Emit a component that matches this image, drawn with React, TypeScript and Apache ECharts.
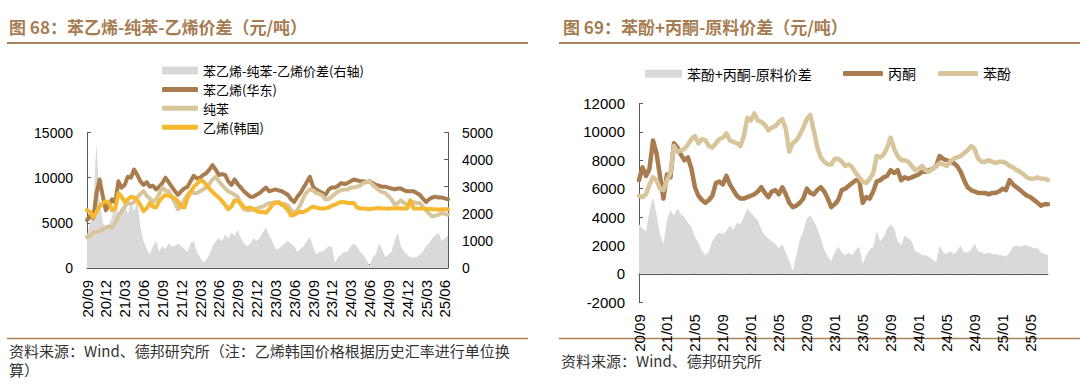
import { useEffect, useRef } from 'react';
import * as echarts from 'echarts';

// ---------- Left chart data (half-month samples from 2020-09) ----------
const styreneEast = [
  5300, 5800, 5500, 8200, 9800, 8000, 6400, 7000, 7600, 7200,
  9600, 8900, 9200, 10100, 10000, 10900, 10300, 9600, 9200, 9500,
  9000, 9100, 8700, 9000, 9400, 10000, 9500, 9000, 8500, 8100,
  8500, 8800, 9000, 9600, 10200, 9900, 10000, 10300, 10500,
  10900, 11400, 10900, 10300, 10400, 10300, 9600, 9200, 9800, 9300,
  8900, 8500, 8200, 7900, 7900, 8100, 8300, 8600, 8900, 8500,
  8600, 8700, 8600, 8500, 8300, 8100, 7600, 7300, 7900,
  8300, 8900, 9500, 10100, 9000, 8700, 8500, 8300, 8100, 8700,
  8900, 8900, 9100, 9400, 9300, 9400, 9600, 9800, 9700, 9600,
  9600, 9500, 9600, 9400, 9200, 9100, 9000, 9000, 8900, 8800,
  8700, 8800, 8800, 8600, 8500, 8500, 8500, 8300, 8100,
  7700, 7300, 7600, 7800, 7900, 7800, 7800, 7700, 7600,
];
const benzene = [
  3400, 3600, 3900, 4000, 4100, 4300, 4500, 4600, 4500, 5000,
  5700, 6300, 6800, 7200, 7100, 7300, 7800, 8200, 8500, 8000,
  7700, 7300, 7600, 8200, 8900, 8600, 8500, 7900, 7200, 6500,
  6800, 7500, 8100, 8500, 8300, 8300, 8500, 8700, 8900,
  9300, 9800, 10100, 9600, 9200, 8800, 8500, 8300, 8100, 7900,
  7000, 6500, 6400, 6400, 6500, 6600, 6700, 6800, 7000, 7200,
  7200, 7300, 7200, 7000, 7100, 6900, 6400, 6100, 6400,
  7000, 7800, 8400, 8700, 8600, 8300, 8200, 8000, 7600, 7600,
  7900, 8200, 8500, 8600, 8700, 8700, 8900, 8900, 9000, 9100,
  9400, 9500, 9600, 9200, 8900, 8600, 8400, 8300, 8000, 7600,
  7000, 7200, 7500, 7200, 7000, 7100, 7300, 7200, 7200,
  6800, 6400, 6000, 5700, 5800, 5900, 6100, 6000, 5900,
];
const ethyleneKorea = [
  6400, 6200, 5600, 6200, 6800, 7200, 7400, 7200, 6400, 6600,
  8300, 7900, 7300, 7600, 7900, 7800, 7500, 7000, 6300, 6600,
  7200, 6800, 6700, 7400, 7800, 8100, 8000, 7900, 7700, 7400,
  6800, 6700, 7700, 8400, 9000, 9300, 9700, 9600, 9200,
  8800, 8400, 8100, 7800, 7400, 7000, 6500, 6800, 7500, 7400,
  7200, 6700, 6600, 6700, 6500, 6300, 6200, 6200, 6100, 6500,
  7000, 7200, 7300, 7100, 6800, 6400, 5800, 5900, 6100,
  6200, 6200, 6400, 6600, 6800, 6700, 6600, 6600, 6600, 6700,
  6900, 7000, 7200, 7300, 7300, 7200, 7200, 7200, 6700, 6600,
  6600, 6550, 6500, 6600, 6600, 6650, 6600, 6600, 6550, 6600,
  6600, 6650, 6600, 6600, 6600, 7500, 6600, 6600, 6550,
  6600, 6500, 6550, 6500, 6500, 6450, 6500, 6500, 6500,
];
const styreneSpread = [
  1200, 1700, 2300, 4600, 2500, 1700, 1400, 1600, 1900, 2700,
  1900, 2200, 2400, 2000, 2400, 2100, 2500, 1500, 1000, 700,
  500, 800, 1000, 600, 800, 700, 900, 800, 800, 900,
  800, 700, 600, 900, 1000, 600, 400, 200, 300,
  500, 800, 1000, 1100, 1000, 1250, 1100, 1300, 1200, 1400,
  1100, 900, 800, 900, 1100, 1000, 1100, 1300, 1500, 1200,
  1000, 700, 700, 800, 900, 1000, 900, 800, 600,
  700, 800, 1000, 1150, 800, 500, 600, 600, 700, 800,
  800, 200, 400, 500, 600, 600, 800, 900, 800, 600,
  500, 300, 100, 400, 500, 900, 700, 400, 500, 600,
  1000, 1300, 800, 600, 500, 400, 400, 400, 500,
  600, 800, 900, 1100, 1200, 1300, 1000, 1100, 1200,
];

// ---------- Right chart data (half-month samples from 2020-09) ----------
const phenol = [
  5500, 5400, 5600, 6300, 6800, 6600, 6000, 5900, 6600, 7100,
  9000, 8600, 8700, 8800, 9100, 9500, 9700, 9200, 9500, 9400,
  9000, 8900, 9200, 9500, 9600, 9900, 9400, 9300, 9200, 9000,
  9700, 11000, 10800, 11300, 10800, 10700, 10500, 10100, 10300, 10400,
  10700, 10900, 10200, 8600, 9200, 9400, 9800, 10300, 10900, 11200,
  10100, 8900, 8200, 7900, 7700, 7700, 8100, 8100, 7900, 7600,
  7700, 7500, 7100, 6800, 6500, 6400, 6700, 7100, 8300, 8200,
  8400, 8900, 9600, 8800, 8300, 8000, 8000, 7900, 7600, 7300,
  7400, 7600, 7300, 7200, 7400, 7600, 7800, 7700, 7600, 7900,
  8100, 8200, 8300, 8500, 8700, 9000, 8800, 8100, 7900, 7900,
  8000, 7900, 7800, 7900, 7900, 7800, 7600, 7500, 7300, 7200,
  7000, 6800, 6700, 6700, 6800, 6700, 6700, 6600,
];
const acetone = [
  6600, 7500, 6900, 7400, 9400, 8500, 6900, 5300, 7000, 6800,
  9200, 8900, 8400, 8000, 8200, 7400, 6100, 5500, 5200, 5000,
  5200, 5500, 6400, 6500, 6300, 6900, 6300, 5900, 5500, 5300,
  5300, 5400, 5500, 5600, 5800, 6100, 5700, 5400, 5800, 5900,
  5600, 6100, 5600, 5000, 4700, 4800, 5000, 5300, 6000, 5700,
  5600, 5900, 6100, 5800, 5300, 4700, 4900, 5200, 5900, 6000,
  6200, 6400, 6600, 6600, 5000, 5400, 5300, 5800, 6500, 6600,
  6800, 6900, 7300, 7100, 7300, 6600, 6800, 6700, 6800, 6900,
  7000, 7200, 7200, 7300, 7400, 7600, 8300, 8100, 8000, 7900,
  7800, 7600, 7200, 6600, 6100, 5900, 5800, 5700, 5700, 5700,
  5600, 5700, 5700, 5800, 6000, 5900, 6600, 6300, 6100, 5900,
  5700, 5500, 5400, 5200, 5000, 4800, 4900, 4900,
];
const phenolSpread = [
  3500, 3200, 3000, 4400, 5400, 4200, 2800, 2100, 3800, 4500,
  4100, 4600, 4200, 4000, 3600, 3300, 2600, 2200, 1600, 1300,
  1600, 2300, 2700, 2900, 2800, 3000, 3400, 3100, 3600, 3500,
  4000, 4600, 4300, 4000, 3800, 3100, 2700, 2500, 2300, 2100,
  1800, 2100, 1500, 900, 200, 1300, 2400, 3000, 3900, 4100,
  3700, 3200, 2500, 1700, 1200, 900, 1500, 1900, 1500, 1300,
  1500, 1300, 1700, 1900, 700, 1300, 1700, 1900, 3000, 2300,
  2600, 3200, 3500, 3200, 2300, 2000, 2700, 2500, 2300, 1600,
  1500, 1300, 1300, 1200, 1000, 800, 2000, 1500, 1400, 1600,
  1400, 1600, 2000, 1500, 1500, 1700, 2100, 1600, 1500, 1400,
  1500, 1400, 1400, 1300, 1300, 1200, 1500, 1900, 2000, 1900,
  2000, 2000, 1900, 1800, 1800, 1500, 1400, 1300,
];

const titleLeft = '图 68：苯乙烯-纯苯-乙烯价差（元/吨）';
const titleRight = '图 69：苯酚+丙酮-原料价差（元/吨）';
const sourceLeft1 = '资料来源：Wind、德邦研究所（注：乙烯韩国价格根据历史汇率进行单位换';
const sourceLeft2 = '算）';
const sourceRight = '资料来源：Wind、德邦研究所';

function halfMonthDates(startYear: number, startMonth: number, n: number): string[] {
  const out: string[] = [];
  let y = startYear;
  let m = startMonth;
  for (let i = 0; i < n; i++) {
    out.push(`${y}-${String(m).padStart(2, '0')}-${i % 2 === 0 ? '01' : '16'}`);
    if (i % 2 === 1) {
      m += 1;
      if (m > 12) { m = 1; y += 1; }
    }
  }
  return out;
}

const leftDates = halfMonthDates(2020, 9, styreneEast.length);
const rightDates = halfMonthDates(2020, 9, phenol.length);

const BROWN = '#a87c4f';
const TAN = '#d9c59b';
const YELLOW = '#f5b82e';
const GRAY = '#d9d9d9';
const TITLE = '#a67c52';
const RULE = '#a9825a';
const AXIS = '#595959';
const CJK = '"Noto Sans CJK SC", sans-serif';
const NUM = '"Liberation Sans", Arial, sans-serif';

const fmtDate = (v: string) => `${v.slice(2, 4)}/${v.slice(5, 7)}`;
const fmtNum = (v: number) => String(v);

export default function App() {
  const ref = useRef<HTMLDivElement>(null);
  useEffect(() => {
    if (!ref.current) return;
    const chart = echarts.init(ref.current, undefined, { renderer: 'svg' });
    const axisLine = { show: true, lineStyle: { color: AXIS, width: 1 } };
    const legendText = { fontSize: 13, lineHeight: 14, color: '#000', fontFamily: CJK };
    const option: any = {
      animation: false,
      backgroundColor: '#ffffff',
      textStyle: { fontFamily: NUM },
      grid: [
        { left: 87, top: 132.5, width: 361, height: 135.5 },
        { left: 639, top: 103.5, width: 409, height: 198.7 },
      ],
      xAxis: [
        {
          gridIndex: 0, type: 'category', data: leftDates, boundaryGap: false,
          axisLine,
          axisTick: { show: true, inside: true, length: 4, interval: 5, lineStyle: { color: AXIS } },
          axisLabel: { interval: 5, rotate: 90, margin: 12, fontSize: 15, color: '#000', fontFamily: NUM, formatter: fmtDate },
          splitLine: { show: false },
        },
        {
          gridIndex: 1, type: 'category', data: rightDates, boundaryGap: false,
          axisLine: { ...axisLine, onZero: true },
          axisTick: { show: true, inside: true, length: 5, interval: 7, lineStyle: { color: AXIS } },
          axisLabel: { interval: 7, rotate: 90, margin: 12, fontSize: 15, color: '#000', fontFamily: NUM, formatter: fmtDate },
          splitLine: { show: false },
        },
      ],
      yAxis: [
        {
          gridIndex: 0, type: 'value', position: 'left', min: 0, max: 15000, interval: 5000,
          axisLine, axisTick: { show: true, inside: true, length: 4, lineStyle: { color: AXIS } },
          axisLabel: { fontSize: 14, margin: 14, color: '#000', fontFamily: NUM, formatter: fmtNum },
          splitLine: { show: false },
        },
        {
          gridIndex: 0, type: 'value', position: 'right', min: 0, max: 5000, interval: 1000,
          axisLine, axisTick: { show: true, inside: true, length: 4, lineStyle: { color: AXIS } },
          axisLabel: { fontSize: 14, margin: 14, color: '#000', fontFamily: NUM, formatter: fmtNum },
          splitLine: { show: false },
        },
        {
          gridIndex: 1, type: 'value', position: 'left', min: -2000, max: 12000, interval: 2000,
          axisLine, axisTick: { show: true, inside: true, length: 4, lineStyle: { color: AXIS } },
          axisLabel: { fontSize: 15, margin: 14, color: '#000', fontFamily: NUM, formatter: fmtNum },
          splitLine: { show: false },
        },
      ],
      legend: [
        {
          data: ['苯乙烯-纯苯-乙烯价差(右轴)'], left: 157, top: 58.5, orient: 'vertical',
          icon: 'rect', itemWidth: 36, itemHeight: 8, itemGap: 5, textStyle: legendText, selectedMode: false,
        },
        {
          data: ['苯乙烯(华东)', '纯苯', '乙烯(韩国)'], left: 157, top: 77.4, orient: 'vertical',
          icon: 'roundRect', itemWidth: 36, itemHeight: 5, itemGap: 4.9, textStyle: legendText, selectedMode: false,
        },
        {
          data: ['苯酚+丙酮-原料价差'], left: 640, top: 61.7, orient: 'horizontal',
          icon: 'rect', itemWidth: 37, itemHeight: 8, textStyle: { ...legendText, fontSize: 14 }, selectedMode: false,
        },
        {
          data: ['丙酮', '苯酚'], left: 838, top: 61.4, orient: 'horizontal',
          icon: 'roundRect', itemWidth: 40, itemHeight: 5, itemGap: 22, textStyle: { ...legendText, fontSize: 14 }, selectedMode: false,
        },
      ],
      series: [
        {
          name: '苯乙烯-纯苯-乙烯价差(右轴)', type: 'line', xAxisIndex: 0, yAxisIndex: 1,
          data: styreneSpread, symbol: 'none', color: GRAY, itemStyle: { color: GRAY },
          lineStyle: { width: 0, color: GRAY }, areaStyle: { color: GRAY, opacity: 1 },
        },
        {
          name: '苯乙烯(华东)', type: 'line', xAxisIndex: 0, yAxisIndex: 0, data: styreneEast,
          symbol: 'none', color: BROWN, itemStyle: { color: BROWN },
          lineStyle: { width: 4, color: BROWN, cap: 'round', join: 'round' },
        },
        {
          name: '纯苯', type: 'line', xAxisIndex: 0, yAxisIndex: 0, data: benzene,
          symbol: 'none', color: TAN, itemStyle: { color: TAN },
          lineStyle: { width: 4, color: TAN, cap: 'round', join: 'round' },
        },
        {
          name: '乙烯(韩国)', type: 'line', xAxisIndex: 0, yAxisIndex: 0, data: ethyleneKorea,
          symbol: 'none', color: YELLOW, itemStyle: { color: YELLOW },
          lineStyle: { width: 4, color: YELLOW, cap: 'round', join: 'round' },
        },
        {
          name: '苯酚+丙酮-原料价差', type: 'line', xAxisIndex: 1, yAxisIndex: 2,
          data: phenolSpread, symbol: 'none', color: GRAY, itemStyle: { color: GRAY },
          lineStyle: { width: 0, color: GRAY }, areaStyle: { color: GRAY, opacity: 1 },
        },
        {
          name: '丙酮', type: 'line', xAxisIndex: 1, yAxisIndex: 2, data: acetone,
          symbol: 'none', color: BROWN, itemStyle: { color: BROWN },
          lineStyle: { width: 4.5, color: BROWN, cap: 'round', join: 'round' },
        },
        {
          name: '苯酚', type: 'line', xAxisIndex: 1, yAxisIndex: 2, data: phenol,
          symbol: 'none', color: TAN, itemStyle: { color: TAN },
          lineStyle: { width: 4.5, color: TAN, cap: 'round', join: 'round' },
        },
      ],
      graphic: [
        { type: 'text', x: 9, y: 26, style: { text: titleLeft, font: `bold 17px ${CJK}`, fill: TITLE, verticalAlign: 'middle' } },
        { type: 'line', shape: { x1: 7, y1: 43, x2: 528, y2: 43 }, style: { stroke: RULE, lineWidth: 2 } },
        { type: 'text', x: 563, y: 26, style: { text: titleRight, font: `bold 17px ${CJK}`, fill: TITLE, verticalAlign: 'middle' } },
        { type: 'line', shape: { x1: 559, y1: 43, x2: 1080, y2: 43 }, style: { stroke: RULE, lineWidth: 2 } },
        { type: 'line', shape: { x1: 7, y1: 338.5, x2: 528, y2: 338.5 }, style: { stroke: RULE, lineWidth: 1.5 } },
        { type: 'line', shape: { x1: 559, y1: 338.5, x2: 1080, y2: 338.5 }, style: { stroke: RULE, lineWidth: 1.5 } },
        { type: 'text', x: 9, y: 350, style: { text: sourceLeft1, font: `15px ${CJK}`, fill: '#333', verticalAlign: 'middle' } },
        { type: 'text', x: 9, y: 369, style: { text: sourceLeft2, font: `15px ${CJK}`, fill: '#333', verticalAlign: 'middle' } },
        { type: 'text', x: 561, y: 360.5, style: { text: sourceRight, font: `15px ${CJK}`, fill: '#333', verticalAlign: 'middle' } },
      ],
    };
    chart.setOption(option);
    return () => chart.dispose();
  }, []);
  return (
    <div
      ref={ref}
      style={{ position: 'absolute', left: 0, top: 0, width: 1080, height: 391, background: '#fff' }}
    />
  );
}
